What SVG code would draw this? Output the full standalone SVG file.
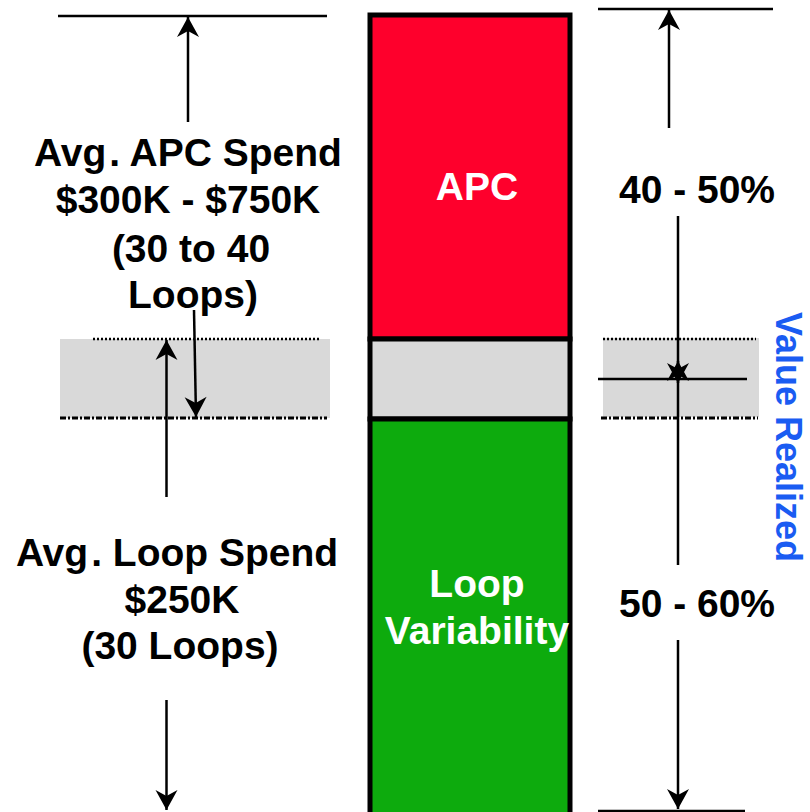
<svg xmlns="http://www.w3.org/2000/svg" width="810" height="812" viewBox="0 0 810 812">
  <style>
    .lbl { font-family: "Liberation Sans", Arial, sans-serif; font-weight: bold; font-size: 39px; fill: #000; text-anchor: middle; }
    .inbar { fill: #fff; }
    .vr { font-family: "Liberation Sans", Arial, sans-serif; font-weight: bold; font-size: 36px; fill: #1a5cf2; text-anchor: middle; }
    .ln { stroke: #000; stroke-width: 2.5; fill: none; }
    .arr { stroke: #000; stroke-width: 2.5; fill: none; marker-end: url(#head); }
    .dots { stroke: #000; stroke-width: 2.5; stroke-dasharray: 2 2; fill: none; }
    .dash { stroke: #000; stroke-width: 3; stroke-dasharray: 6 2 2 2; fill: none; }
  </style>
  <defs>
    <marker id="head" viewBox="-21 -12 22 24" markerWidth="22" markerHeight="24" refX="0" refY="0" orient="auto" markerUnits="userSpaceOnUse">
      <path d="M0,0 L-20,-11 L-14,0 L-20,11 Z" fill="#000"/>
    </marker>
  </defs>

  <!-- shaded band across the chart -->
  <g id="band">
    <rect x="60" y="339" width="270" height="79" fill="#d9d9d9"/>
    <rect x="603" y="338" width="156" height="79" fill="#d9d9d9"/>
    <line class="dots" x1="93" y1="339" x2="320" y2="339"/>
    <line class="dash" x1="60" y1="418" x2="327" y2="418"/>
    <line class="dots" x1="603" y1="339" x2="756" y2="339"/>
    <line class="dash" x1="601" y1="418" x2="758" y2="418"/>
  </g>

  <!-- stacked bar -->
  <g id="bar-apc">
    <rect x="370" y="15" width="200" height="324" fill="#fe002c" stroke="#000" stroke-width="5"/>
    <text class="lbl inbar" x="477" y="200">APC</text>
  </g>
  <g id="bar-gap">
    <rect x="370" y="339" width="200" height="80" fill="#d9d9d9" stroke="#000" stroke-width="5"/>
  </g>
  <g id="bar-loop">
    <rect x="370" y="419" width="200" height="396" fill="#0dab0d" stroke="#000" stroke-width="5"/>
    <text class="lbl inbar" x="477" y="597">Loop</text>
    <text class="lbl inbar" x="477" y="644">Variability</text>
  </g>

  <!-- dimension lines and arrows -->
  <g id="connectors">
    <line class="ln" x1="58" y1="16" x2="327" y2="16"/>
    <line class="arr" x1="188" y1="122" x2="188" y2="17"/>
    <line class="arr" x1="194" y1="310" x2="196" y2="417"/>
    <line class="arr" x1="166.5" y1="497" x2="166.5" y2="340"/>
    <line class="arr" x1="166.5" y1="700" x2="166.5" y2="810"/>

    <line class="ln" x1="598" y1="9" x2="773" y2="9"/>
    <line class="arr" x1="669" y1="128" x2="669" y2="10"/>
    <line class="ln" x1="598" y1="379" x2="747" y2="379"/>
    <line class="arr" x1="678" y1="216" x2="678" y2="383"/>
    <line class="arr" x1="678" y1="565" x2="678" y2="361"/>
    <line class="arr" x1="678" y1="640" x2="678" y2="809"/>
    <line class="ln" x1="598" y1="811" x2="745" y2="811"/>
  </g>

  <g id="apc-spend">
    <text class="lbl" x="188" y="166">Avg<tspan dx="3">.</tspan> APC Spend</text>
    <text class="lbl" x="188" y="213">$300K - $750K</text>
    <text class="lbl" x="191" y="262">(30 to 40</text>
    <text class="lbl" x="193" y="308">Loops)</text>
  </g>
  <g id="loop-spend">
    <text class="lbl" x="177" y="566">Avg<tspan dx="3">.</tspan> Loop Spend</text>
    <text class="lbl" x="182" y="613">$250K</text>
    <text class="lbl" x="180" y="659">(30 Loops)</text>
  </g>
  <g id="pct-apc">
    <text class="lbl" x="697" y="203">40 - 50%</text>
  </g>
  <g id="pct-loop">
    <text class="lbl" x="697" y="617">50 - 60%</text>
  </g>
  <g id="value-realized">
    <text class="vr" transform="translate(776,437) rotate(90)">Value Realized</text>
  </g>
</svg>
